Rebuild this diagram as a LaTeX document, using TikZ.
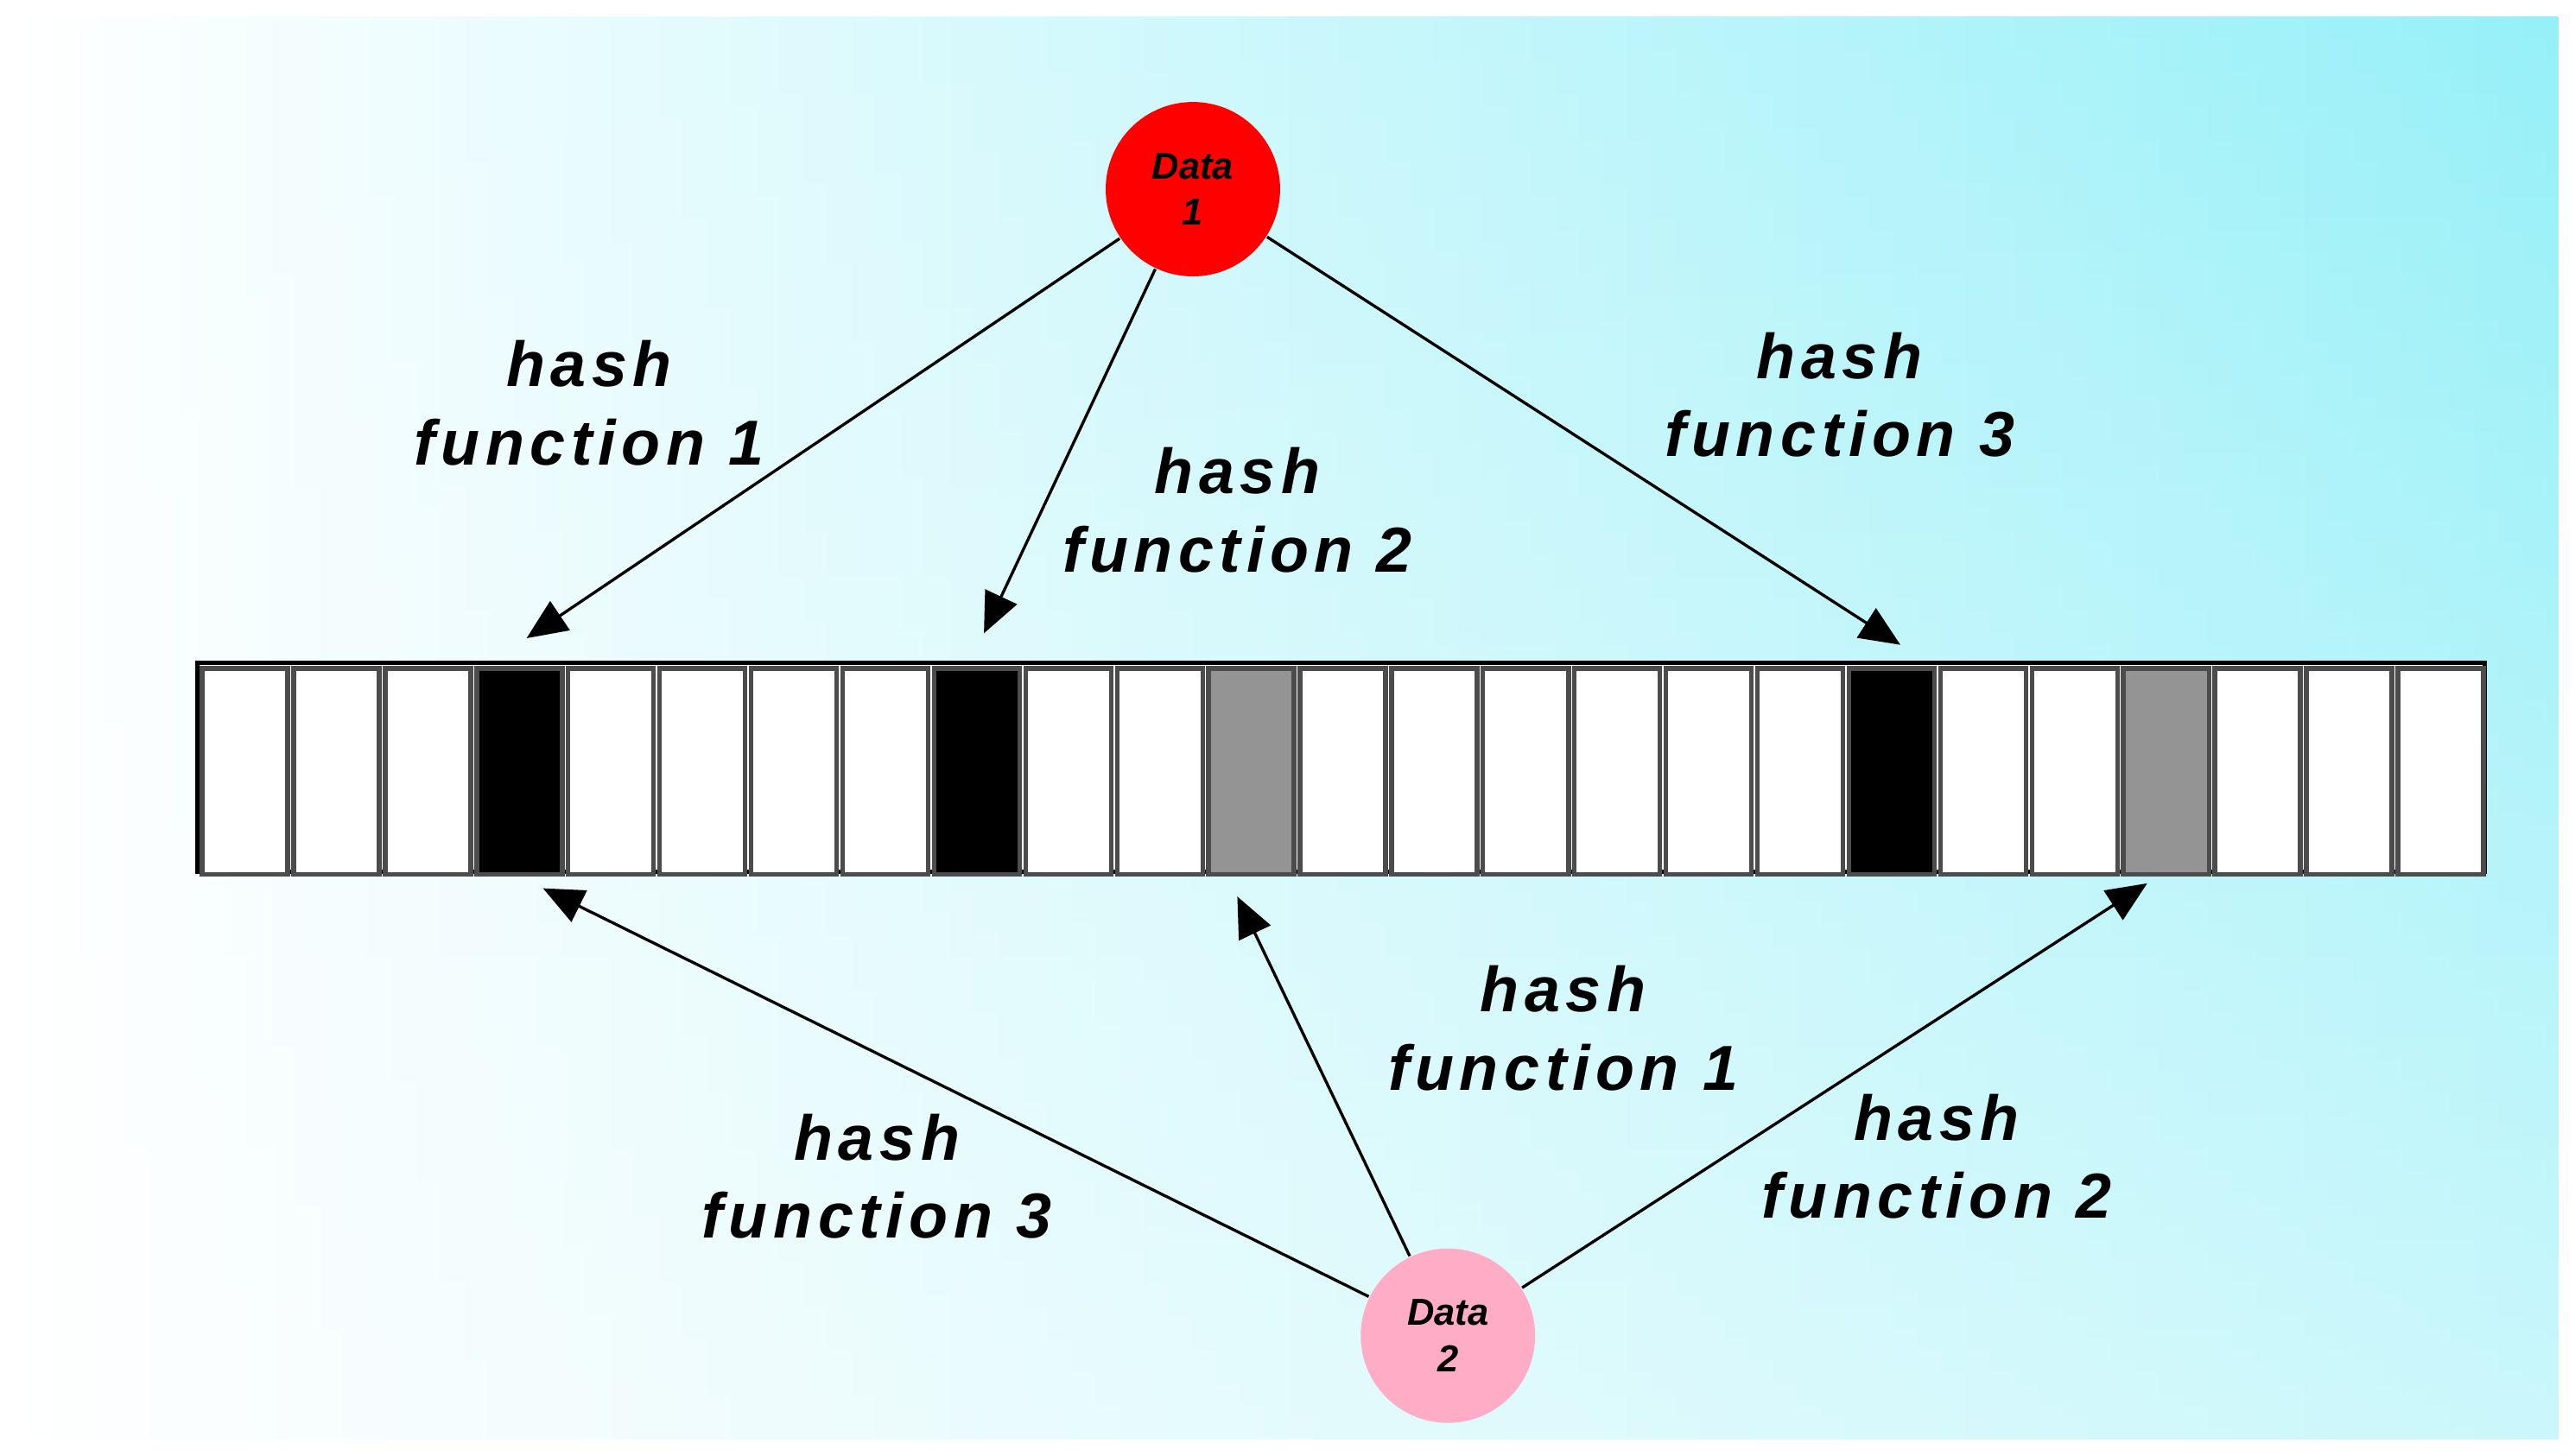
\documentclass[tikz,border=0pt]{standalone}
\usepackage{fontspec}
\setmainfont{Liberation Sans}
\usetikzlibrary{arrows.meta,fadings}
\definecolor{cy}{RGB}{150,240,248}
\begin{document}
\begin{tikzpicture}[x=0.1mm,y=-0.1mm,
  lbl/.style={font=\fontsize{11}{13.5}\selectfont\addfontfeatures{LetterSpace=9}\bfseries\itshape,align=center},
  arr/.style={-{Triangle[length=7pt,width=6pt]},line width=0.5pt},
  cell/.style={draw=black!70,line width=0.8pt,minimum width=5.2mm,minimum height=12.5mm,inner sep=0,anchor=north west},
  dat/.style={circle,minimum size=10.6mm,inner sep=0,align=center,font=\fontsize{6.5}{8}\selectfont\bfseries\itshape}]
\useasboundingbox (0,0) rectangle (1565,885);
\fill[white] (0,0) rectangle (1565,885);
\shade[left color=white,right color=cy] (10,10) rectangle (1555,875);
\fill[white,opacity=0.5,path fading=north] (10,10) rectangle (1555,875);
\draw[line width=0.8pt,fill=white] (120,403) rectangle (1510,530);
\foreach \i in {1,...,25}{
  \pgfmathsetmacro\xx{120+55.6*(\i-1)}
  \ifnum\i=4 \def\fc{black}\else\ifnum\i=9 \def\fc{black}\else\ifnum\i=19 \def\fc{black}\else
  \ifnum\i=12 \def\fc{black!42}\else\ifnum\i=22 \def\fc{black!42}\else\def\fc{white}\fi\fi\fi\fi\fi
  \node[cell,fill=\fc] (c\i) at (\xx+1.5,405) {};
}
\node[dat,fill=red] (d1) at (725,115) {Data\\1};
\node[dat,fill=pink!90!magenta] (d2) at (880,812) {Data\\2};
\coordinate (t1) at (320,388);\coordinate (t2) at (598,385);\coordinate (t3) at (1155,392);
\coordinate (b1) at (330,540);\coordinate (b2) at (752,545);\coordinate (b3) at (1305,537);
\draw[arr] (d1) -- (t1);\draw[arr] (d1) -- (t2);\draw[arr] (d1) -- (t3);
\draw[arr] (d2) -- (b1);\draw[arr] (d2) -- (b2);\draw[arr] (d2) -- (b3);
\node[lbl] (l1) at (358,245) {hash\\function 1};
\node[lbl] (l2) at (752,310) {hash\\function 2};
\node[lbl] (l3) at (1118,240) {hash\\function 3};
\node[lbl] (l4) at (950,625) {hash\\function 1};
\node[lbl] (l5) at (533,715) {hash\\function 3};
\node[lbl] (l6) at (1177,703) {hash\\function 2};
\end{tikzpicture}
\end{document}
